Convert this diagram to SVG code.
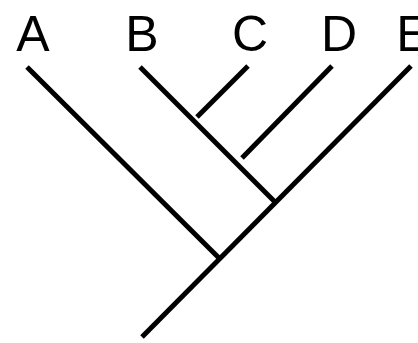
<svg xmlns="http://www.w3.org/2000/svg" width="418" height="343" viewBox="0 0 418 343">
<style>
.lbl{font-family:"Liberation Sans",Arial,sans-serif;font-size:50px;fill:#000;text-anchor:middle}
.br{stroke:#000;stroke-width:5;fill:none;stroke-linecap:butt}
</style>
<rect width="418" height="343" fill="#fff"/>
<g id="connectors">
<line class="br" x1="142" y1="337" x2="411" y2="66"/>
<line class="br" x1="27" y1="67" x2="219" y2="258"/>
<line class="br" x1="140" y1="67" x2="275" y2="202"/>
<line class="br" x1="248" y1="66" x2="197" y2="117"/>
<line class="br" x1="332" y1="66" x2="242" y2="158"/>
</g>
<g id="node-A"><text class="lbl" x="33" y="51">A</text></g>
<g id="node-B"><text class="lbl" x="142" y="51">B</text></g>
<g id="node-C"><text class="lbl" x="250" y="51">C</text></g>
<g id="node-D"><text class="lbl" x="339" y="51">D</text></g>
<g id="node-E"><text class="lbl" x="413" y="51">E</text></g>
</svg>
